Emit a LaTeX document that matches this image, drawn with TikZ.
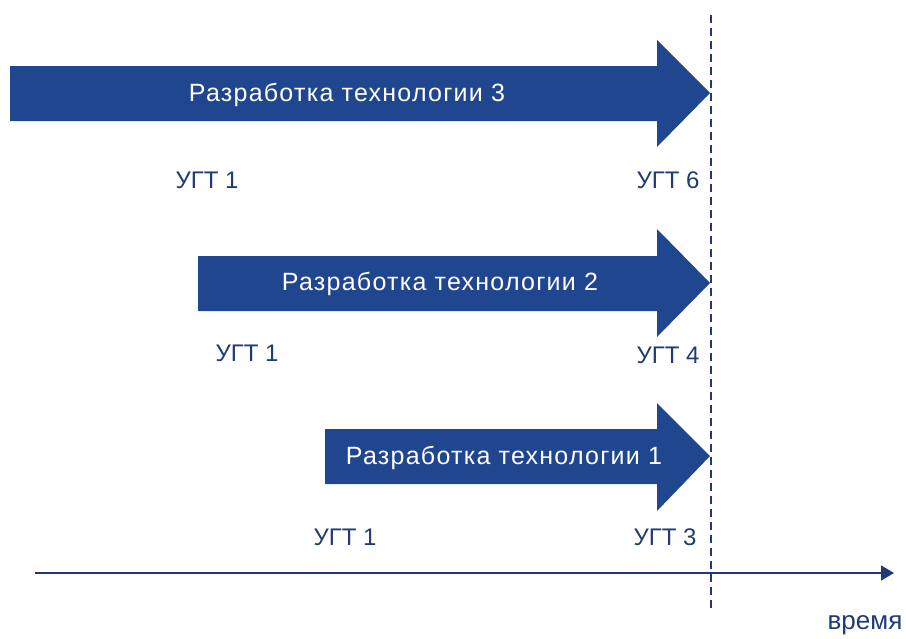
\documentclass[tikz,border=0pt]{standalone}
\usepackage{fontspec}
\setmainfont{Liberation Sans}
\usetikzlibrary{arrows.meta}
\definecolor{arrblue}{RGB}{32,70,144}
\definecolor{txtblue}{RGB}{30,58,120}
\begin{document}
\begin{tikzpicture}[x=1pt,y=-1pt,
  bigarrow/.style={fill=arrblue,draw=none},
  intext/.style={text=white,font=\fontsize{25}{28}\selectfont\addfontfeature{LetterSpace=5},inner sep=0pt},
  ugt/.style={text=txtblue,font=\fontsize{24}{27}\selectfont,inner sep=0pt},
  axisline/.style={draw=txtblue,line width=1.6pt,-{Triangle[length=13pt,width=15pt]}},
  dashline/.style={draw=txtblue,line width=2pt,dash pattern=on 8pt off 5pt}]
\useasboundingbox (0,0) rectangle (906,638);
% arrow 3
\path[bigarrow] (10,66) -- (657,66) -- (657,40) -- (710,93) -- (657,147) -- (657,121) -- (10,121) -- cycle;
\node[intext] (t3) at (347,95) {Разработка технологии 3};
\node[ugt] (a3) at (207,180) {УГТ 1};
\node[ugt] (b3) at (668,180) {УГТ 6};
% arrow 2
\path[bigarrow] (198,256) -- (657,256) -- (657,229) -- (710,283) -- (657,337) -- (657,311) -- (198,311) -- cycle;
\node[intext] (t2) at (440,284) {Разработка технологии 2};
\node[ugt] (a2) at (247,353) {УГТ 1};
\node[ugt] (b2) at (668,355) {УГТ 4};
% arrow 1
\path[bigarrow] (325,429) -- (657,429) -- (657,403) -- (710,456) -- (657,511) -- (657,484) -- (325,484) -- cycle;
\node[intext] (t1) at (504,458) {Разработка технологии 1};
\node[ugt] (a1) at (345,537) {УГТ 1};
\node[ugt] (b1) at (665,537) {УГТ 3};
% axis
\coordinate (ax0) at (35,573);
\coordinate (ax1) at (894,573);
\draw[axisline] (ax0) -- (ax1);
\node[ugt,font=\fontsize{26}{29}\selectfont] (vr) at (865,625) {время};
% dashed line
\coordinate (d0) at (711,15);
\coordinate (d1) at (711,612);
\draw[dashline] (d0) -- (d1);
\end{tikzpicture}
\end{document}
